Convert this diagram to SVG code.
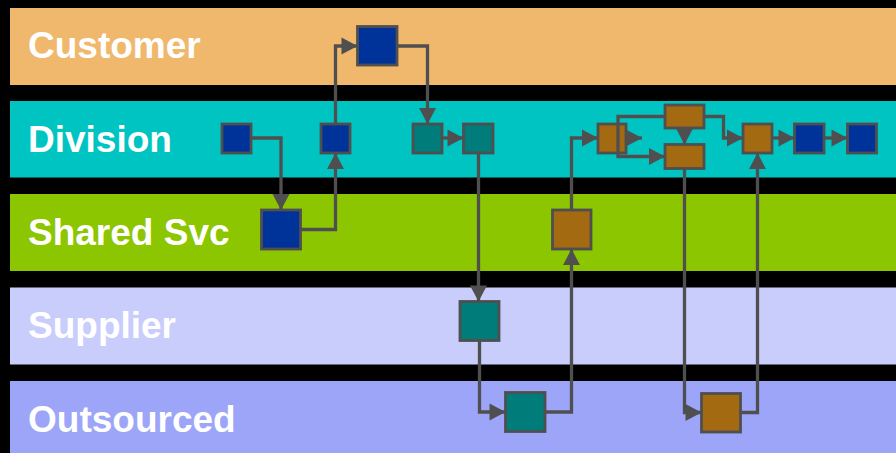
<svg xmlns="http://www.w3.org/2000/svg" width="896" height="453" viewBox="0 0 896 453">
<style>
.lbl{font-family:"Liberation Sans",Arial,sans-serif;font-weight:bold;font-size:37px;fill:#ffffff}
.n{stroke:#4f4f4f;stroke-width:2.8}
.blue{fill:#003399}
.teal{fill:#007d7a}
.brown{fill:#a36a11}
.c{fill:none;stroke:#4f4f4f;stroke-width:3.3}
.a{marker-end:url(#arr)}
</style>
<defs>
<marker id="arr" markerUnits="userSpaceOnUse" markerWidth="16" markerHeight="17" refX="16" refY="8.5" orient="auto" viewBox="0 0 16 17" overflow="visible">
<path d="M0,0 L16,8.5 L0,17 z" fill="#4f4f4f"/>
</marker>
</defs>
<rect x="0" y="0" width="896" height="453" fill="#000000"/>
<g id="lanes">
<g id="lane-customer"><rect x="10" y="8" width="886" height="77" fill="#f0b86c"/><text class="lbl" x="28" y="58.3">Customer</text></g>
<g id="lane-division"><rect x="10" y="101" width="886" height="76.5" fill="#00c4c2"/><text class="lbl" x="28" y="151.7">Division</text></g>
<g id="lane-shared"><rect x="10" y="194" width="886" height="77" fill="#8cc600"/><text class="lbl" x="28" y="245">Shared Svc</text></g>
<g id="lane-supplier"><rect x="10" y="287.5" width="886" height="77" fill="#c8cdfc"/><text class="lbl" x="28" y="338.3">Supplier</text></g>
<g id="lane-outsourced"><rect x="10" y="381" width="886" height="72" fill="#9ca5f8"/><text class="lbl" x="28" y="431.7">Outsourced</text></g>
</g>
<g id="c1"><rect class="n blue" x="357.5" y="26.5" width="39.5" height="38.5"/></g>
<g id="d1"><rect class="n blue" x="222" y="124" width="29" height="29"/></g>
<g id="d2"><rect class="n blue" x="321" y="124" width="29" height="29"/></g>
<g id="d3"><rect class="n teal" x="413" y="124" width="29" height="29"/></g>
<g id="d4"><rect class="n teal" x="463.5" y="124" width="29.5" height="29"/></g>
<g id="s1"><rect class="n blue" x="261.5" y="210" width="39" height="39"/></g>
<g id="su1"><rect class="n teal" x="460" y="301.5" width="39" height="39"/></g>
<g id="o1"><rect class="n teal" x="505.5" y="392.5" width="39.5" height="39"/></g>
<g id="s2"><rect class="n brown" x="552.5" y="210" width="38.5" height="39"/></g>
<g id="d5"><rect class="n brown" x="598" y="124" width="28" height="29"/></g>
<g id="d6"><rect class="n brown" x="665" y="105" width="39" height="23"/></g>
<g id="d7"><rect class="n brown" x="665" y="144.5" width="39" height="24"/></g>
<g id="o2"><rect class="n brown" x="701.5" y="393.5" width="39" height="38.5"/></g>
<g id="d8"><rect class="n brown" x="743" y="124" width="29" height="29"/></g>
<g id="d9"><rect class="n blue" x="794.5" y="124" width="29.5" height="29"/></g>
<g id="d10"><rect class="n blue" x="847.5" y="124" width="29" height="29"/></g>
<g id="connectors">
<path class="c a" d="M251,138 H281 V210"/>
<path class="c a" d="M300.5,229.5 H335.5 V153"/>
<path class="c a" d="M335.5,124 V46 H357.5"/>
<path class="c a" d="M397,46 H427.5 V124"/>
<path class="c a" d="M442,138 H463.5"/>
<path class="c a" d="M478.5,153 V301.5"/>
<path class="c a" d="M479.5,340.5 V412 H505.5"/>
<path class="c a" d="M545,412 H571.5 V249"/>
<path class="c a" d="M571.5,210 V138 H598"/>
<path class="c a" d="M626,138 H642"/>
<path class="c a" d="M665,116.5 H618 V156.5 H665"/>
<path class="c a" d="M684.5,128 V144.5"/>
<path class="c a" d="M704,116.5 H723.5 V138 H743"/>
<path class="c a" d="M684.5,168.5 V412.5 H701.5"/>
<path class="c a" d="M740.5,412.5 H757.5 V153"/>
<path class="c a" d="M772,138 H794.5"/>
<path class="c a" d="M824,138 H847.5"/>
</g>
</svg>
